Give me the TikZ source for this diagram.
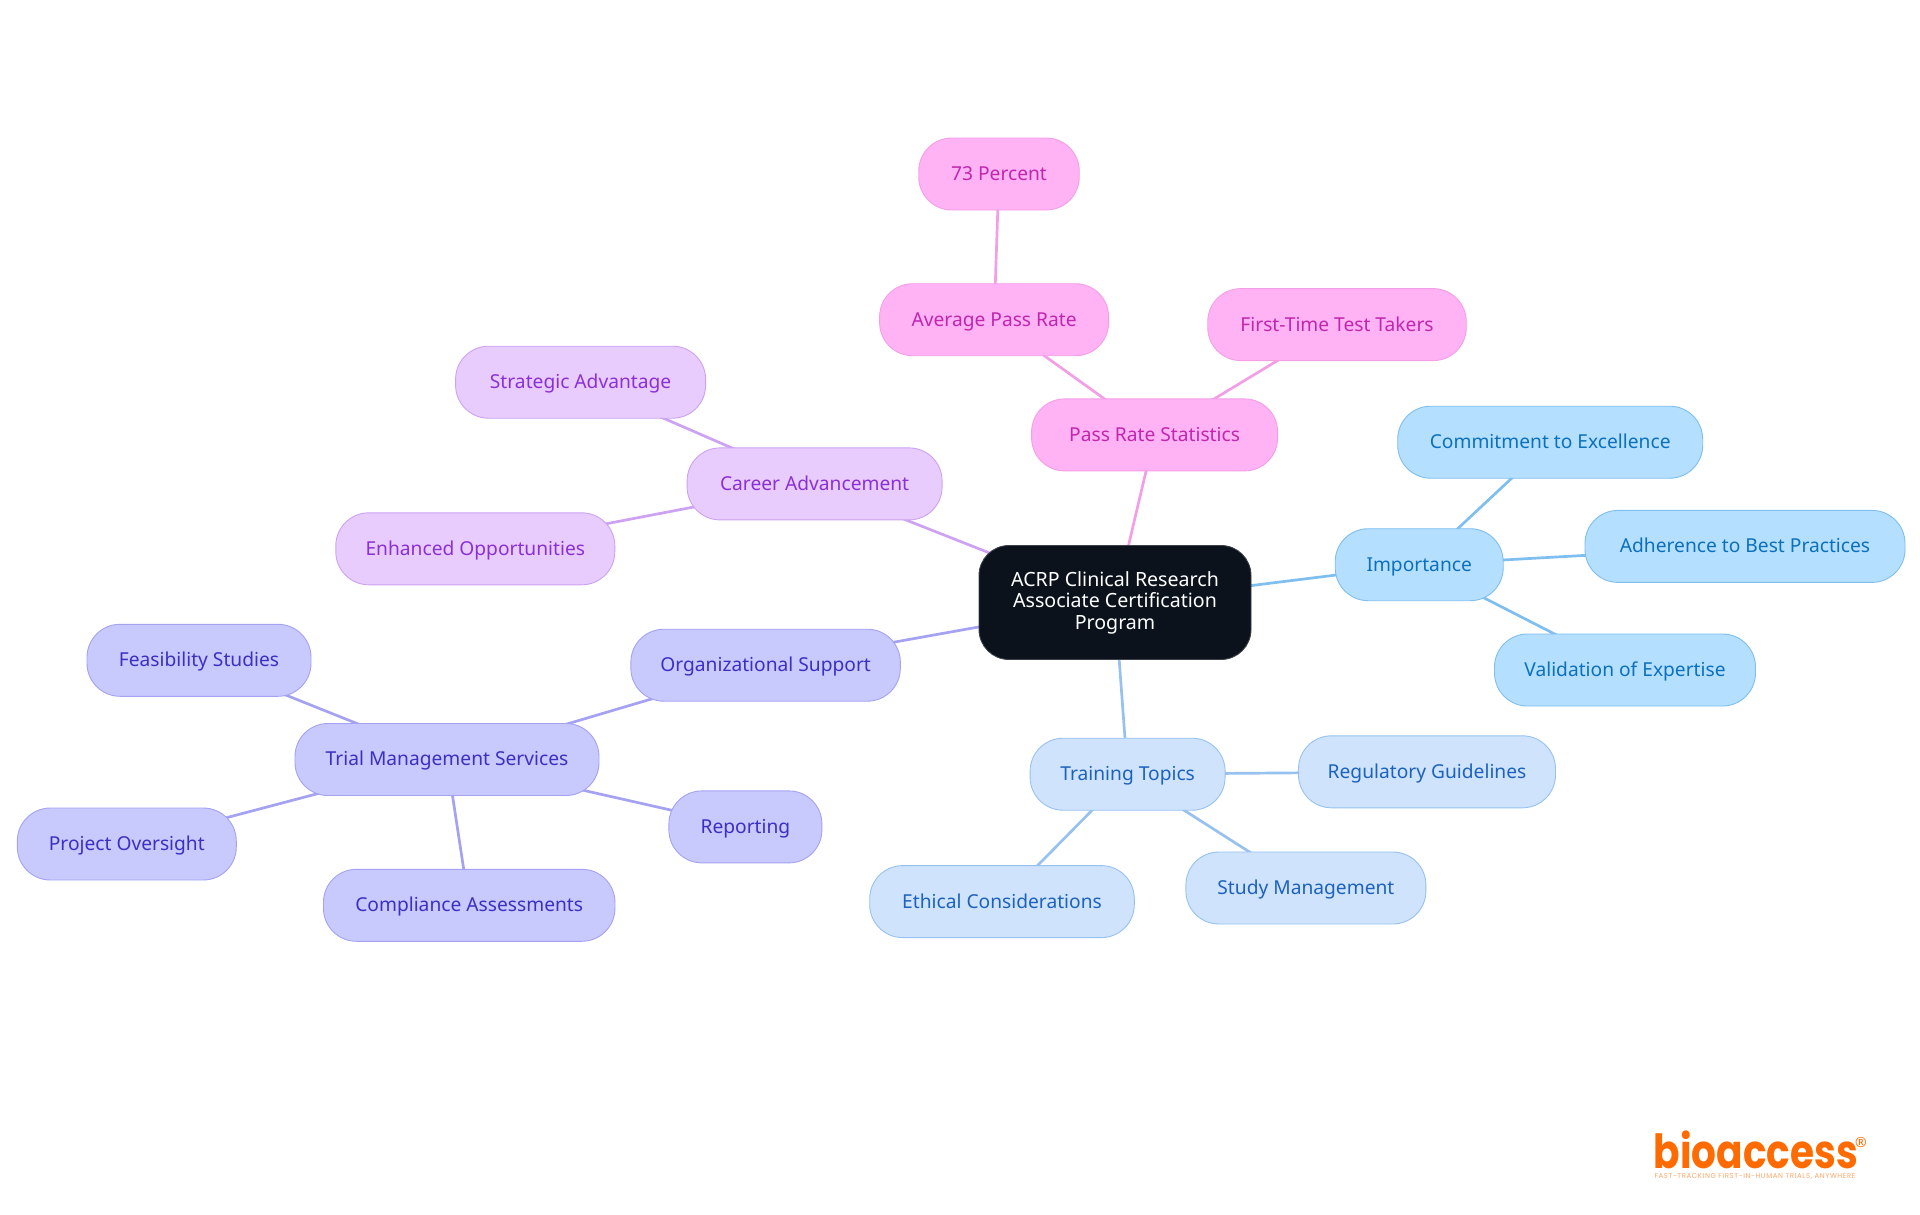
\documentclass[tikz,border=0pt]{standalone}
\usepackage{fontspec}
\setmainfont{Noto Sans}
\newfontfamily\logofont[FakeStretch=0.83]{Poppins}
\newfontfamily\tagfont[LetterSpace=8.4]{Poppins}
\usetikzlibrary{backgrounds}

\definecolor{rootfill}{HTML}{0B121B}
\definecolor{pinkfill}{HTML}{FFB3F5}
\definecolor{pinkline}{HTML}{F39FE6}
\definecolor{pinktext}{HTML}{C026AE}
\definecolor{violetfill}{HTML}{E8CCFD}
\definecolor{violetline}{HTML}{CDA2F2}
\definecolor{violettext}{HTML}{8B30D6}
\definecolor{indigofill}{HTML}{C8C9FD}
\definecolor{indigoline}{HTML}{A5A2F2}
\definecolor{indigotext}{HTML}{3A30C4}
\definecolor{bluefill}{HTML}{CFE3FC}
\definecolor{blueline}{HTML}{97C2F0}
\definecolor{bluetext}{HTML}{1C62BE}
\definecolor{skyfill}{HTML}{B5DFFE}
\definecolor{skyline}{HTML}{7FBFF0}
\definecolor{skytext}{HTML}{0B70BE}
\definecolor{logoorange}{HTML}{FF6B00}

\tikzset{
	topic/.style={rounded corners=33pt, minimum height=72pt, inner sep=0pt, line width=0.9pt, text height=15.5pt, text depth=2.7pt, font=\fontsize{19.2}{22}\selectfont},
	pinktopic/.style={topic, fill=pinkfill, draw=pinkline, text=pinktext},
	violettopic/.style={topic, fill=violetfill, draw=violetline, text=violettext},
	indigotopic/.style={topic, fill=indigofill, draw=indigoline, text=indigotext},
	bluetopic/.style={topic, fill=bluefill, draw=blueline, text=bluetext},
	skytopic/.style={topic, fill=skyfill, draw=skyline, text=skytext},
	roottopic/.style={rounded corners=30pt, inner sep=0pt, line width=0.9pt, fill=rootfill, draw=rootfill!80!white, text=white, minimum width=272pt, minimum height=114pt, align=center, font=\fontsize{19.6}{21.5}\selectfont},
	link/.style={line width=2.7pt}
}

\begin{document}
\begin{tikzpicture}[x=1pt, y=-1pt]
	\useasboundingbox (0,0) rectangle (1920,1215);

	\node[roottopic] (root) at (1115,602.5) {ACRP Clinical Research\\Associate Certification\\Program};

	\node[pinktopic, minimum width=246pt] (passrate) at (1154.6,434.9) {Pass Rate Statistics};
	\node[pinktopic, minimum width=229pt] (average) at (994.1,319.7) {Average Pass Rate};
	\node[pinktopic, minimum width=160.5pt] (percent) at (999,174) {73 Percent};
	\node[pinktopic, minimum width=258.5pt] (firsttime) at (1337,324.6) {First-Time Test Takers};

	\node[skytopic, minimum width=168pt] (importance) at (1419.2,564.7) {Importance};
	\node[skytopic, minimum width=305pt] (commitment) at (1550.2,442.2) {Commitment to Excellence};
	\node[skytopic, minimum width=320pt] (adherence) at (1745,546.4) {Adherence to Best Practices};
	\node[skytopic, minimum width=261pt] (validation) at (1625,670) {Validation of Expertise};

	\node[bluetopic, minimum width=195pt] (training) at (1127.6,774.2) {Training Topics};
	\node[bluetopic, minimum width=257pt] (regulatory) at (1427,771.8) {Regulatory Guidelines};
	\node[bluetopic, minimum width=240pt] (study) at (1305.9,888) {Study Management};
	\node[bluetopic, minimum width=264.6pt] (ethical) at (1002,901.6) {Ethical Considerations};

	\node[violettopic, minimum width=255pt] (career) at (814.6,483.9) {Career Advancement};
	\node[violettopic, minimum width=250pt] (strategic) at (580.6,382.2) {Strategic Advantage};
	\node[violettopic, minimum width=279pt] (enhanced) at (475.3,548.8) {Enhanced Opportunities};

	\node[indigotopic, minimum width=269.5pt] (orgsupport) at (765.6,665.2) {Organizational Support};
	\node[indigotopic, minimum width=304pt] (trial) at (447,759.5) {Trial Management Services};
	\node[indigotopic, minimum width=224pt] (feasibility) at (199,660.3) {Feasibility Studies};
	\node[indigotopic, minimum width=219pt] (oversight) at (126.8,844) {Project Oversight};
	\node[indigotopic, minimum width=291.5pt] (compliance) at (469.2,905.3) {Compliance Assessments};
	\node[indigotopic, minimum width=153pt] (reporting) at (745.4,826.9) {Reporting};

	\begin{scope}[on background layer]
		\foreach \from/\to in {root/passrate, passrate/average, average/percent, passrate/firsttime}
			\draw[link, pinkline] (\from.center) -- (\to.center);
		\foreach \from/\to in {root/importance, importance/commitment, importance/adherence, importance/validation}
			\draw[link, skyline] (\from.center) -- (\to.center);
		\foreach \from/\to in {root/training, training/regulatory, training/study, training/ethical}
			\draw[link, blueline] (\from.center) -- (\to.center);
		\foreach \from/\to in {root/career, career/strategic, career/enhanced}
			\draw[link, violetline] (\from.center) -- (\to.center);
		\foreach \from/\to in {root/orgsupport, orgsupport/trial, trial/feasibility, trial/oversight, trial/compliance, trial/reporting}
			\draw[link, indigoline] (\from.center) -- (\to.center);
	\end{scope}

	% logo
	\node[inner sep=0pt, anchor=base, text=logoorange, font=\logofont\bfseries\fontsize{47}{47}\selectfont] (logo) at (1756,1168) {bioaccess};
	\node[inner sep=0pt, text=logoorange, font=\fontsize{14}{14}\selectfont] (logomark) at (1861,1142) {®};
	\node[inner sep=0pt, text=logoorange!60!white, font=\tagfont\fontsize{7}{7}\selectfont] (logotag) at (1755,1177) {FAST-TRACKING FIRST-IN-HUMAN TRIALS, ANYWHERE};
\end{tikzpicture}
\end{document}
